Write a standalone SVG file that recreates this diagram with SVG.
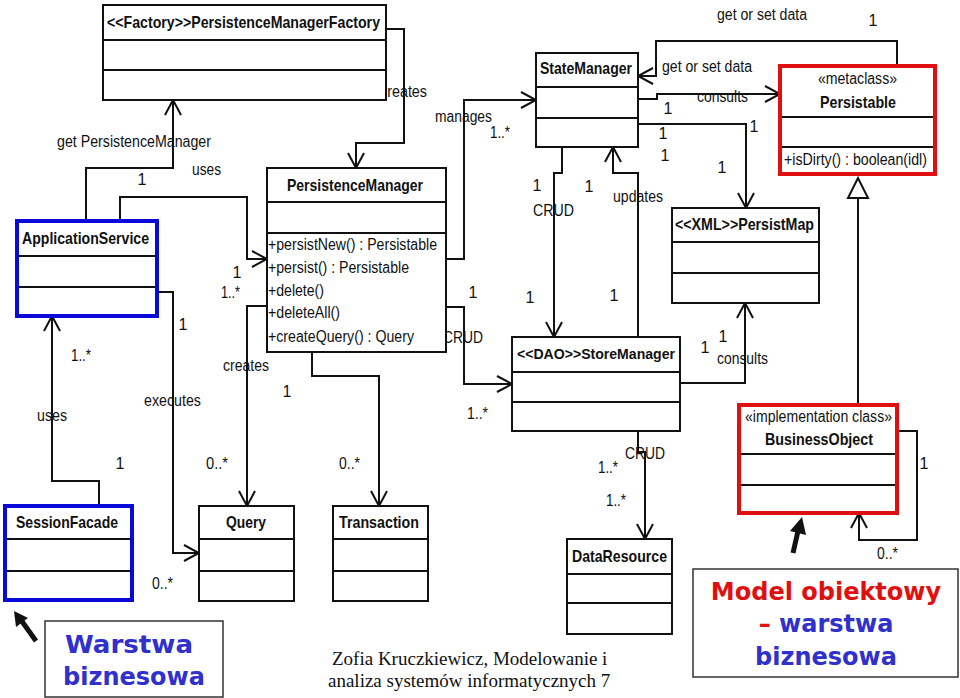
<svg xmlns="http://www.w3.org/2000/svg" width="960" height="698" viewBox="0 0 960 698">
<style>
.box{fill:#fff;stroke:#111;stroke-width:2}
.sep{stroke:#111;stroke-width:2}
.blue{fill:none;stroke:#0a0ad8;stroke-width:4}
.red{fill:none;stroke:#e01010;stroke-width:4}
.t{font-family:"Liberation Sans",Arial,sans-serif;font-size:16px;fill:#111}
.h{font-family:"Liberation Sans",Arial,sans-serif;font-size:17px;font-weight:bold;fill:#111}
.c{text-anchor:middle}
.conn path{fill:none;stroke:#111;stroke-width:2}
.big{font-family:"DejaVu Sans",Verdana,sans-serif;font-size:24px;font-weight:bold;text-anchor:middle}
.bl{fill:#3030cc}
.rd{fill:#e01010}
.foot{font-family:"Liberation Serif","Times New Roman",serif;font-size:19px;fill:#111}
</style>
<defs>
<marker id="open" markerUnits="userSpaceOnUse" markerWidth="20" markerHeight="20" viewBox="0 0 20 20" refX="18" refY="10" orient="auto">
<path d="M3,2 L18,10 L3,18" fill="none" stroke="#111" stroke-width="2"/>
</marker>
</defs>
<rect x="0" y="0" width="960" height="698" fill="#fff"/>

<g id="connectors" class="conn">
<path d="M386,29 H404 V143 H356 V168" marker-end="url(#open)"/>
<path d="M86,220 V168 H173 V100" marker-end="url(#open)"/>
<path d="M120,220 V197 H247 V259 H267" marker-end="url(#open)"/>
<path d="M99,506 V481 H52 V316" marker-end="url(#open)"/>
<path d="M157,292 H173 V553 H199" marker-end="url(#open)"/>
<path d="M267,306 H247 V506" marker-end="url(#open)"/>
<path d="M312,352 V376 H379 V506" marker-end="url(#open)"/>
<path d="M446,259 H464 V100 H536" marker-end="url(#open)"/>
<path d="M446,307 H464 V384 H512" marker-end="url(#open)"/>
<path d="M562,147 V173 H554 V337" marker-end="url(#open)"/>
<path d="M638,337 V173 H613 V147" marker-end="url(#open)"/>
<path d="M638,99 H657 V94 H780" marker-end="url(#open)"/>
<path d="M897,66 V41 H656 V76 H638" marker-end="url(#open)"/>
<path d="M638,124 H746 V208" marker-end="url(#open)"/>
<path d="M680,383 H745 V303" marker-end="url(#open)"/>
<path d="M858,405 V198"/>
<polygon points="858,178 848,198 868,198" fill="#fff" stroke="#111" stroke-width="2"/>
<path d="M897,431 H917 V540 H859 V513" marker-end="url(#open)"/>
<path d="M638,431 V452 H645 V539" marker-end="url(#open)"/>
</g>

<g id="conn-labels">
<text class="t" x="380" y="97" textLength="47" lengthAdjust="spacingAndGlyphs">creates</text>
<text class="t" x="57" y="147" textLength="154" lengthAdjust="spacingAndGlyphs">get PersistenceManager</text>
<text class="t c" x="142" y="185">1</text>
<text class="t" x="192" y="175" textLength="29" lengthAdjust="spacingAndGlyphs">uses</text>
<text class="t c" x="237" y="278">1</text>
<text class="t" x="221" y="298" textLength="19" lengthAdjust="spacingAndGlyphs">1..*</text>
<text class="t" x="435" y="122" textLength="57" lengthAdjust="spacingAndGlyphs">manages</text>
<text class="t" x="490" y="138" textLength="20" lengthAdjust="spacingAndGlyphs">1..*</text>
<text class="t c" x="473" y="298">1</text>
<text class="t" x="443" y="343" textLength="40" lengthAdjust="spacingAndGlyphs">CRUD</text>
<text class="t" x="467" y="419" textLength="21" lengthAdjust="spacingAndGlyphs">1..*</text>
<text class="t" x="37" y="421" textLength="30" lengthAdjust="spacingAndGlyphs">uses</text>
<text class="t" x="71" y="361" textLength="20" lengthAdjust="spacingAndGlyphs">1..*</text>
<text class="t c" x="120" y="469">1</text>
<text class="t" x="144" y="406" textLength="57" lengthAdjust="spacingAndGlyphs">executes</text>
<text class="t c" x="183" y="330">1</text>
<text class="t" x="152" y="589" textLength="21" lengthAdjust="spacingAndGlyphs">0..*</text>
<text class="t" x="223" y="371" textLength="46" lengthAdjust="spacingAndGlyphs">creates</text>
<text class="t" x="206" y="469" textLength="22" lengthAdjust="spacingAndGlyphs">0..*</text>
<text class="t c" x="287" y="397">1</text>
<text class="t" x="339" y="469" textLength="21" lengthAdjust="spacingAndGlyphs">0..*</text>
<text class="t c" x="537" y="191">1</text>
<text class="t" x="533" y="216" textLength="41" lengthAdjust="spacingAndGlyphs">CRUD</text>
<text class="t c" x="589" y="192">1</text>
<text class="t" x="613" y="202" textLength="50" lengthAdjust="spacingAndGlyphs">updates</text>
<text class="t c" x="530" y="303">1</text>
<text class="t c" x="614" y="301">1</text>
<text class="t" x="717" y="20" textLength="90" lengthAdjust="spacingAndGlyphs">get or set data</text>
<text class="t c" x="873" y="26">1</text>
<text class="t" x="662" y="72" textLength="90" lengthAdjust="spacingAndGlyphs">get or set data</text>
<text class="t" x="697" y="102" textLength="51" lengthAdjust="spacingAndGlyphs">consults</text>
<text class="t c" x="668" y="114">1</text>
<text class="t c" x="663" y="139">1</text>
<text class="t c" x="665" y="161">1</text>
<text class="t c" x="754" y="132">1</text>
<text class="t c" x="722" y="173">1</text>
<text class="t c" x="705" y="353">1</text>
<text class="t c" x="723" y="342">1</text>
<text class="t" x="717" y="364" textLength="51" lengthAdjust="spacingAndGlyphs">consults</text>
<text class="t c" x="924" y="469">1</text>
<text class="t" x="877" y="559" textLength="21" lengthAdjust="spacingAndGlyphs">0..*</text>
<text class="t" x="625" y="459" textLength="40" lengthAdjust="spacingAndGlyphs">CRUD</text>
<text class="t" x="598" y="473" textLength="20" lengthAdjust="spacingAndGlyphs">1..*</text>
<text class="t" x="606" y="506" textLength="20" lengthAdjust="spacingAndGlyphs">1..*</text>
</g>

<g id="PersistenceManagerFactory">
<rect class="box" x="103" y="5" width="283" height="95"/>
<line class="sep" x1="103" y1="40" x2="386" y2="40"/>
<line class="sep" x1="103" y1="70" x2="386" y2="70"/>
<text class="h" x="107" y="28" textLength="273" lengthAdjust="spacingAndGlyphs">&lt;&lt;Factory&gt;&gt;PersistenceManagerFactory</text>
</g>

<g id="PersistenceManager">
<rect class="box" x="267" y="168" width="179" height="184"/>
<line class="sep" x1="267" y1="202" x2="446" y2="202"/>
<line class="sep" x1="267" y1="233" x2="446" y2="233"/>
<text class="h" x="287" y="191" textLength="136" lengthAdjust="spacingAndGlyphs">PersistenceManager</text>
<text class="t" x="268" y="250" textLength="169" lengthAdjust="spacingAndGlyphs">+persistNew() : Persistable</text>
<text class="t" x="268" y="273" textLength="141" lengthAdjust="spacingAndGlyphs">+persist() : Persistable</text>
<text class="t" x="268" y="296" textLength="56" lengthAdjust="spacingAndGlyphs">+delete()</text>
<text class="t" x="268" y="318" textLength="72" lengthAdjust="spacingAndGlyphs">+deleteAll()</text>
<text class="t" x="268" y="342" textLength="146" lengthAdjust="spacingAndGlyphs">+createQuery() : Query</text>
</g>

<g id="ApplicationService">
<rect class="box" x="17" y="221" width="140" height="95" stroke="none"/>
<line class="sep" x1="17" y1="256" x2="157" y2="256"/>
<line class="sep" x1="17" y1="287" x2="157" y2="287"/>
<rect class="blue" x="17" y="221" width="140" height="95"/>
<text class="h" x="22" y="244" textLength="127" lengthAdjust="spacingAndGlyphs">ApplicationService</text>
</g>

<g id="SessionFacade">
<rect class="box" x="5" y="506" width="127" height="94" stroke="none"/>
<line class="sep" x1="5" y1="539" x2="132" y2="539"/>
<line class="sep" x1="5" y1="571" x2="132" y2="571"/>
<rect class="blue" x="5" y="506" width="127" height="94"/>
<text class="h" x="16" y="528" textLength="102" lengthAdjust="spacingAndGlyphs">SessionFacade</text>
</g>

<g id="Query">
<rect class="box" x="199" y="506" width="95" height="95"/>
<line class="sep" x1="199" y1="539" x2="294" y2="539"/>
<line class="sep" x1="199" y1="571" x2="294" y2="571"/>
<text class="h" x="226" y="528" textLength="40" lengthAdjust="spacingAndGlyphs">Query</text>
</g>

<g id="Transaction">
<rect class="box" x="333" y="506" width="95" height="95"/>
<line class="sep" x1="333" y1="539" x2="428" y2="539"/>
<line class="sep" x1="333" y1="571" x2="428" y2="571"/>
<text class="h" x="339" y="528" textLength="80" lengthAdjust="spacingAndGlyphs">Transaction</text>
</g>

<g id="StateManager">
<rect class="box" x="536" y="53" width="102" height="94"/>
<line class="sep" x1="536" y1="87" x2="638" y2="87"/>
<line class="sep" x1="536" y1="118" x2="638" y2="118"/>
<text class="h" x="540" y="74" textLength="92" lengthAdjust="spacingAndGlyphs">StateManager</text>
</g>

<g id="Persistable">
<rect class="box" x="780" y="66" width="155" height="108" stroke="none"/>
<line class="sep" x1="780" y1="117" x2="935" y2="117"/>
<line class="sep" x1="780" y1="147" x2="935" y2="147"/>
<rect class="red" x="780" y="66" width="155" height="108"/>
<text class="t" x="818" y="84" textLength="79" lengthAdjust="spacingAndGlyphs">«metaclass»</text>
<text class="h" x="820" y="108" textLength="76" lengthAdjust="spacingAndGlyphs">Persistable</text>
<text class="t" x="784" y="165" textLength="143" lengthAdjust="spacingAndGlyphs">+isDirty() : boolean(idl)</text>
</g>

<g id="PersistMap">
<rect class="box" x="672" y="208" width="147" height="95"/>
<line class="sep" x1="672" y1="242" x2="819" y2="242"/>
<line class="sep" x1="672" y1="273" x2="819" y2="273"/>
<text class="h" x="675" y="230" textLength="139" lengthAdjust="spacingAndGlyphs">&lt;&lt;XML&gt;&gt;PersistMap</text>
</g>

<g id="StoreManager">
<rect class="box" x="512" y="337" width="168" height="94"/>
<line class="sep" x1="512" y1="372" x2="680" y2="372"/>
<line class="sep" x1="512" y1="402" x2="680" y2="402"/>
<text class="h" x="517" y="359" style="font-size:15px" textLength="158" lengthAdjust="spacingAndGlyphs">&lt;&lt;DAO&gt;&gt;StoreManager</text>
</g>

<g id="BusinessObject">
<rect class="box" x="739" y="405" width="158" height="108" stroke="none"/>
<line class="sep" x1="739" y1="454" x2="897" y2="454"/>
<line class="sep" x1="739" y1="485" x2="897" y2="485"/>
<rect class="red" x="739" y="405" width="158" height="108"/>
<text class="t" x="745" y="422" textLength="147" lengthAdjust="spacingAndGlyphs">«implementation class»</text>
<text class="h" x="765" y="445" textLength="108" lengthAdjust="spacingAndGlyphs">BusinessObject</text>
</g>

<g id="DataResource">
<rect class="box" x="567" y="539" width="105" height="95"/>
<line class="sep" x1="567" y1="574" x2="672" y2="574"/>
<line class="sep" x1="567" y1="603" x2="672" y2="603"/>
<text class="h" x="572" y="562" textLength="95" lengthAdjust="spacingAndGlyphs">DataResource</text>
</g>

<g id="note-warstwa">
<rect x="45" y="621" width="178" height="76" fill="#fff" stroke="#333" stroke-width="1.5"/>
<text class="big bl" x="129" y="653" textLength="128" lengthAdjust="spacingAndGlyphs">Warstwa</text>
<text class="big bl" x="134" y="685">biznesowa</text>
<line x1="36" y1="641" x2="21" y2="620" stroke="#111" stroke-width="5"/>
<polygon points="14,611 28,618 16,627" fill="#111"/>
</g>

<g id="note-model">
<rect x="693" y="569" width="265" height="108" fill="#fff" stroke="#333" stroke-width="1.5"/>
<text class="big rd" x="826" y="600">Model obiektowy</text>
<text class="big" x="826" y="632"><tspan class="rd">–</tspan><tspan class="bl"> warstwa</tspan></text>
<text class="big bl" x="826" y="665">biznesowa</text>
<line x1="793" y1="553" x2="798" y2="531" stroke="#111" stroke-width="5"/>
<polygon points="802,517 806,535 790,531" fill="#111"/>
</g>

<g id="footer">
<text class="foot" x="332" y="665">Zofia Kruczkiewicz, Modelowanie i</text>
<text class="foot" x="328" y="687">analiza systemów informatycznych 7</text>
</g>
</svg>
